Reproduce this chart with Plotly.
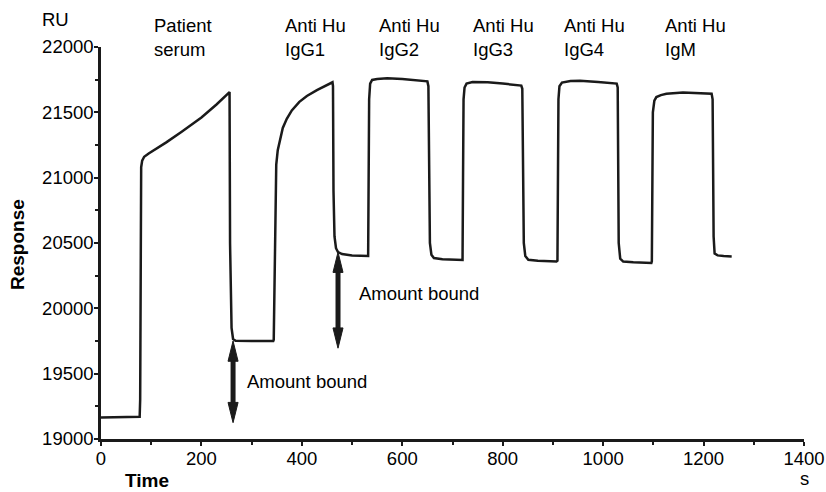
import plotly.graph_objects as go

# Sensorgram trace (time in s, response in RU)
time_s = [0, 76, 77, 78, 79, 80, 82, 86, 95, 110, 130, 160, 200, 230, 256,
          257, 258, 260, 263, 268, 300, 343,
          344, 346, 347, 349, 352, 356, 362, 370, 380, 395, 410, 430, 450, 461,
          462, 463, 465, 468, 472, 480, 500, 531,
          532, 533, 534, 536, 540, 550, 570, 600, 630, 650,
          652, 653, 655, 658, 663, 680, 700, 719,
          720, 721, 722, 724, 728, 740, 770, 800, 837,
          839, 840, 842, 845, 851, 870, 890, 907,
          909, 910, 911, 913, 918, 935, 954, 990, 1027,
          1029, 1030, 1031, 1034, 1040, 1060, 1080, 1096,
          1097, 1098, 1099, 1102, 1106, 1115, 1126, 1159, 1190, 1216,
          1218, 1219, 1220, 1222, 1228, 1240, 1256]
response_ru = [19165, 19165, 19170, 19300, 20800, 21080, 21130, 21160, 21185, 21220, 21270, 21350, 21460, 21560, 21655,
               20500, 20100, 19850, 19765, 19752, 19750, 19750,
               19760, 20300, 20900, 21100, 21210, 21290, 21380, 21450, 21515, 21580, 21625, 21670, 21705, 21730,
               21700, 20900, 20550, 20460, 20430, 20415, 20405, 20395,
               20400, 21000, 21600, 21720, 21748, 21755, 21760, 21755, 21745, 21737,
               21700, 20900, 20500, 20410, 20385, 20375, 20370, 20365,
               20370, 21000, 21600, 21690, 21720, 21732, 21730, 21720, 21705,
               21680, 20900, 20500, 20400, 20372, 20365, 20362, 20358,
               20365, 21000, 21600, 21700, 21728, 21740, 21742, 21732, 21720,
               21690, 20900, 20500, 20380, 20358, 20352, 20350, 20347,
               20360, 21000, 21500, 21590, 21617, 21632, 21642, 21652, 21648, 21643,
               21600, 20900, 20550, 20420, 20405, 20400, 20397]

# Injection labels
injection_labels = ["Patient<br>serum", "Anti Hu<br>IgG1", "Anti Hu<br>IgG2",
                    "Anti Hu<br>IgG3", "Anti Hu<br>IgG4", "Anti Hu<br>IgM"]
label_times = [101, 363, 550, 736, 918, 1120]

# "Amount bound" arrows: time, top, bottom
arrow_times = [263, 472]
arrow_tops = [19750, 20430]
arrow_bottoms = [19125, 19695]
arrow_text_x = [287, 510]
arrow_text_y = [19439, 20112]

x_ticks = [0, 200, 400, 600, 800, 1000, 1200, 1400]
y_ticks = [19000, 19500, 20000, 20500, 21000, 21500, 22000]

FONT = "Liberation Sans, Arial, Helvetica, sans-serif"
INK = "#1a1a1a"
FS = 18.5
HEAD_HALF_W = 10   # x data units (~5 px)
HEAD_LEN = 155     # y data units (~20 px)

fig = go.Figure()
fig.add_trace(go.Scatter(x=time_s, y=response_ru, mode="lines",
                         line=dict(color=INK, width=2.5), showlegend=False,
                         hoverinfo="skip"))

ann = []
shapes = []
for t, lab in zip(label_times, injection_labels):
    ann.append(dict(x=t, xref="x", y=1.0255, yref="paper", text=lab,
                    showarrow=False, xanchor="left", yanchor="middle", align="left",
                    font=dict(size=FS, color="black", family=FONT)))
for t, top, bot, tx, ty in zip(arrow_times, arrow_tops, arrow_bottoms, arrow_text_x, arrow_text_y):
    shapes.append(dict(type="line", xref="x", yref="y", x0=t, x1=t,
                       y0=top - HEAD_LEN * 0.8, y1=bot + HEAD_LEN * 0.8,
                       line=dict(color=INK, width=5)))
    shapes.append(dict(type="path", xref="x", yref="y", fillcolor=INK, line=dict(color=INK, width=1),
                       path=f"M {t - HEAD_HALF_W},{top - HEAD_LEN} L {t},{top} L {t + HEAD_HALF_W},{top - HEAD_LEN} Z"))
    shapes.append(dict(type="path", xref="x", yref="y", fillcolor=INK, line=dict(color=INK, width=1),
                       path=f"M {t - HEAD_HALF_W},{bot + HEAD_LEN} L {t},{bot} L {t + HEAD_HALF_W},{bot + HEAD_LEN} Z"))
    ann.append(dict(x=tx, y=ty, xref="x", yref="y", text="Amount bound", showarrow=False,
                    xanchor="left", yanchor="middle",
                    font=dict(size=FS, color="black", family=FONT)))
ann.append(dict(x=-0.0654, y=1.0689, xref="paper", yref="paper", text="RU", showarrow=False,
                xanchor="center", yanchor="middle", font=dict(size=FS, color="black", family=FONT)))
ann.append(dict(x=-0.118, y=0.495, xref="paper", yref="paper", text="<b>Response</b>", showarrow=False,
                textangle=-90, xanchor="center", yanchor="middle",
                font=dict(size=19, color="black", family=FONT)))
ann.append(dict(x=0.0654, y=-0.107, xref="paper", yref="paper", text="<b>Time</b>", showarrow=False,
                xanchor="center", yanchor="middle", font=dict(size=19, color="black", family=FONT)))
ann.append(dict(x=1.0, y=-0.0995, xref="paper", yref="paper", text="s", showarrow=False,
                xanchor="center", yanchor="middle", font=dict(size=FS, color="black", family=FONT)))

fig.update_layout(
    width=826, height=492,
    margin=dict(l=101, r=22, t=47, b=53, autoexpand=False),
    paper_bgcolor="white", plot_bgcolor="white",
    font=dict(family=FONT, size=FS, color="black"),
    annotations=ann,
    shapes=shapes,
    xaxis=dict(range=[0, 1400], tickvals=x_ticks, tickformat="d", showgrid=False, zeroline=False,
               automargin=False,
               showline=True, linecolor=INK, linewidth=2.5, ticks="outside",
               ticklen=4, tickwidth=2, tickcolor=INK, ticklabelstandoff=-3,
               minor=dict(tickvals=[100, 300, 500, 700, 900, 1100, 1300], ticks="outside",
                          ticklen=3, tickwidth=1.5, tickcolor=INK),
               tickfont=dict(size=FS, color="black", family=FONT)),
    yaxis=dict(range=[19000, 22000], tickvals=y_ticks, tickformat="d", showgrid=False, zeroline=False,
               automargin=False,
               showline=True, linecolor=INK, linewidth=2.5, ticks="outside",
               ticklen=4, tickwidth=2, tickcolor=INK, ticklabelstandoff=-3,
               minor=dict(tickvals=[19250, 19750, 20250, 20750, 21250, 21750], ticks="outside",
                          ticklen=3, tickwidth=1.5, tickcolor=INK),
               tickfont=dict(size=FS, color="black", family=FONT)),
)

fig.write_html("out.html", config={"displayModeBar": False},
               post_script="document.body.style.margin='0';document.body.style.overflow='hidden';")
